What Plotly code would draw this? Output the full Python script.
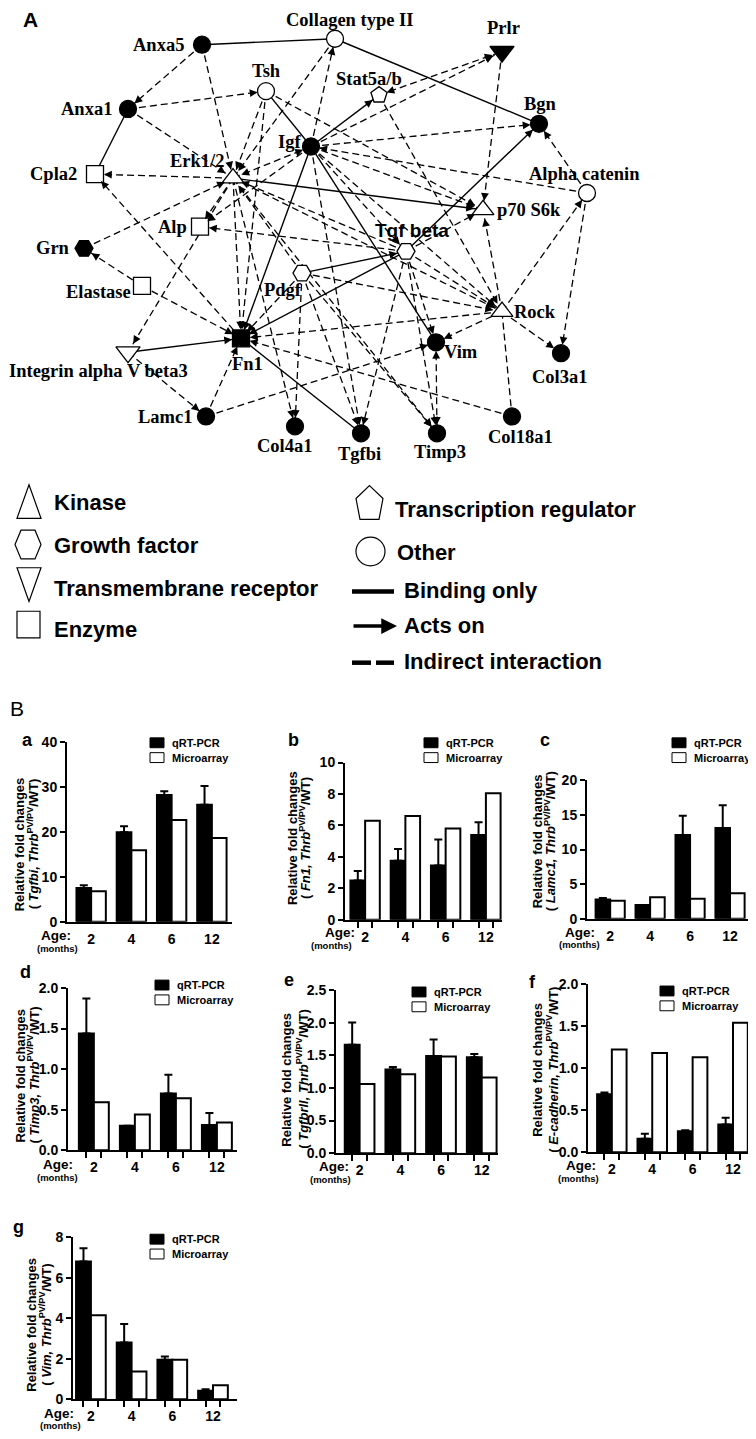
import math
import plotly.graph_objects as go

W, H = 756, 1439
OFF = 8                      # default page margin of the html body
FW, FH = W - OFF, H - OFF    # figure size so that it fits the window
SANS = "Liberation Sans, Arial, Helvetica, sans-serif"
SERIF = "Liberation Serif, Times New Roman, serif"

# ---------------- Panel B data (relative fold changes) ----------------
ages = ["2", "4", "6", "12"]
series_names = ["qRT-PCR", "Microarray"]

tgfbi_qrt = [7.5, 19.9, 28.2, 26.0]
tgfbi_err = [0.6, 1.3, 0.8, 4.2]
tgfbi_array = [6.8, 15.9, 22.6, 18.6]

fn1_qrt = [2.5, 3.75, 3.45, 5.4]
fn1_err = [0.6, 0.75, 1.65, 0.8]
fn1_array = [6.3, 6.6, 5.8, 8.05]

lamc1_qrt = [2.8, 2.0, 12.1, 13.1]
lamc1_err = [0.2, 0.0, 2.8, 3.3]
lamc1_array = [2.6, 3.1, 2.9, 3.7]

timp3_qrt = [1.44, 0.30, 0.70, 0.31]
timp3_err = [0.43, 0.0, 0.23, 0.15]
timp3_array = [0.59, 0.44, 0.64, 0.34]

tgfbr2_qrt = [1.66, 1.28, 1.49, 1.47]
tgfbr2_err = [0.34, 0.04, 0.25, 0.05]
tgfbr2_array = [1.06, 1.21, 1.48, 1.16]

ecad_qrt = [0.69, 0.16, 0.25, 0.33]
ecad_err = [0.02, 0.06, 0.01, 0.08]
ecad_array = [1.22, 1.18, 1.13, 1.54]

vim_qrt = [6.8, 2.8, 1.95, 0.42]
vim_err = [0.65, 0.92, 0.17, 0.08]
vim_array = [4.15, 1.37, 1.95, 0.70]

# ---------------- Panel A network data ----------------
node_names = ["Anxa5", "Collagen type II", "Prlr", "Tsh", "Stat5a/b", "Anxa1", "Bgn", "Igf",
              "Cpla2", "Erk1/2", "Alpha catenin", "p70 S6k", "Alp", "Tgf beta", "Grn", "Pdgf",
              "Elastase", "Rock", "Fn1", "Integrin alpha V beta3", "Vim", "Col3a1", "Lamc1",
              "Col18a1", "Col4a1", "Tgfbi", "Timp3"]
node_x = [202, 335, 502, 266, 379, 128, 539, 311, 95, 233, 587, 483, 200, 406, 84, 302,
          142, 502, 241, 128, 436, 561, 206, 512, 295, 361, 437]
node_y = [37, 31, 44, 84, 88, 102, 117, 140, 168, 172, 187, 204, 221, 246, 243, 268,
          281, 307, 334, 348, 338, 349, 413, 413, 423, 430, 430]
node_kind = ["other", "other", "receptor", "other", "tr", "other", "other", "other",
             "enzyme", "kinase", "other", "kinase", "enzyme", "gf", "gf", "gf",
             "enzyme", "kinase", "enzyme", "receptor", "other", "other", "other",
             "other", "other", "other", "other"]
node_filled = [1, 0, 1, 0, 0, 1, 1, 1, 0, 0, 0, 0, 0, 0, 1, 0, 0, 0, 1, 0, 1, 1, 1, 1, 1, 1, 1]

# b = binding only, a = acts on, i = indirect (arrow), ii = indirect both ways, d = indirect no arrow
edges = [
    ("Anxa5", "Collagen type II", "b"), ("Collagen type II", "Bgn", "b"), ("Anxa1", "Cpla2", "b"),
    ("Tsh", "Igf", "b"), ("Fn1", "Tgfbi", "b"), ("Igf", "Vim", "b"),
    ("Erk1/2", "p70 S6k", "a"), ("Igf", "Fn1", "a"), ("Integrin alpha V beta3", "Fn1", "a"),
    ("Tgf beta", "Fn1", "a"), ("Tgf beta", "Bgn", "a"), ("Pdgf", "Tgf beta", "a"),
    ("Igf", "Stat5a/b", "a"),
    ("Anxa5", "Anxa1", "i"), ("Anxa5", "Erk1/2", "i"), ("Anxa1", "Tsh", "i"), ("Anxa1", "Erk1/2", "i"),
    ("Erk1/2", "Cpla2", "i"), ("Fn1", "Cpla2", "i"), ("Grn", "Erk1/2", "i"), ("Elastase", "Grn", "i"),
    ("Elastase", "Fn1", "i"), ("Erk1/2", "Integrin alpha V beta3", "i"),
    ("Integrin alpha V beta3", "Lamc1", "i"), ("Lamc1", "Fn1", "i"), ("Lamc1", "Vim", "i"),
    ("Collagen type II", "Erk1/2", "i"), ("Igf", "Collagen type II", "i"), ("Tsh", "Erk1/2", "i"),
    ("Tsh", "p70 S6k", "i"), ("Igf", "Erk1/2", "ii"), ("Stat5a/b", "Prlr", "ii"), ("Igf", "Prlr", "i"),
    ("Igf", "Bgn", "i"), ("Prlr", "p70 S6k", "i"), ("Alpha catenin", "Bgn", "i"),
    ("Alpha catenin", "Igf", "i"), ("Rock", "Alpha catenin", "i"), ("Alpha catenin", "Col3a1", "i"),
    ("Rock", "Col3a1", "i"), ("Rock", "Vim", "i"), ("Rock", "Col18a1", "d"), ("Col18a1", "Fn1", "i"),
    ("Rock", "Fn1", "i"), ("Rock", "p70 S6k", "i"), ("Tgf beta", "p70 S6k", "i"), ("Tgf beta", "Alp", "i"),
    ("Tgf beta", "Vim", "i"), ("Tgf beta", "Timp3", "i"), ("Tgf beta", "Tgfbi", "i"),
    ("Tgf beta", "Rock", "i"), ("Tgf beta", "Erk1/2", "i"), ("Igf", "Tgf beta", "i"),
    ("Igf", "Rock", "i"), ("Igf", "p70 S6k", "i"), ("Igf", "Alp", "i"), ("Igf", "Tgfbi", "i"),
    ("Erk1/2", "Alp", "i"), ("Erk1/2", "Rock", "i"), ("Erk1/2", "Fn1", "i"), ("Erk1/2", "Col4a1", "i"),
    ("Erk1/2", "Timp3", "i"), ("Pdgf", "Fn1", "i"), ("Pdgf", "Col4a1", "i"), ("Pdgf", "Tgfbi", "i"),
    ("Pdgf", "Timp3", "i"), ("Pdgf", "Rock", "i"), ("Pdgf", "Erk1/2", "i"), ("Stat5a/b", "Rock", "i"),
    ("Vim", "Timp3", "ii"), ("Tsh", "Fn1", "i"),
]

legend_shapes_text = ["Kinase", "Growth factor", "Transmembrane receptor", "Enzyme"]
legend_other_text = ["Transcription regulator", "Other"]
legend_line_text = ["Binding only", "Acts on", "Indirect interaction"]


def pxx(x):
    return (x - OFF) / FW


def pxy(y):
    return 1 - (y - OFF) / FH


# ---------------- styles ----------------
label_style = {  # dx, dy, anchor
    "Anxa5": (-16, 0, "right"), "Collagen type II": (14, -19, "center"), "Prlr": (1, -24, "center"),
    "Tsh": (0, -20, "center"), "Stat5a/b": (-10, -16, "center"), "Anxa1": (-14, 0, "right"),
    "Bgn": (1, -20, "center"), "Igf": (-8, -5, "right"), "Cpla2": (-16, 0, "right"),
    "Erk1/2": (-36, -17, "center"), "Alpha catenin": (-3, -19, "center"), "p70 S6k": (12, 0, "left"),
    "Alp": (-11, 0, "right"), "Tgf beta": (6, -21, "center"), "Grn": (-12, 0, "right"),
    "Pdgf": (-19, 17, "center"), "Elastase": (-9, 6, "right"), "Rock": (10, 0, "left"),
    "Fn1": (6, 26, "center"), "Integrin alpha V beta3": (-30, 19, "center"), "Vim": (6, 10, "left"),
    "Col3a1": (-1, 24, "center"), "Lamc1": (-12, 1, "right"), "Col18a1": (8, 21, "center"),
    "Col4a1": (-10, 20, "center"), "Tgfbi": (-2, 21, "center"), "Timp3": (3, 19, "center"),
}
kind_symbol = {"other": "circle", "enzyme": "square", "kinase": "triangle-up",
               "receptor": "triangle-down", "gf": "hexagon2", "tr": "pentagon"}
kind_size = {"other": 17, "enzyme": 17, "kinase": 19, "receptor": 21, "gf": 18, "tr": 17}
kind_r = {"other": 8.5, "enzyme": 9, "kinase": 9, "receptor": 10, "gf": 9, "tr": 8}

fig = go.Figure()
annotations = []
shapes = []

NX, NY = "x8", "y8"
idx = {n: i for i, n in enumerate(node_names)}

# edges
sx, sy, dx_, dy_ = [], [], [], []
for s, t, k in edges:
    i, j = idx[s], idx[t]
    if k in ("b", "a"):
        sx += [node_x[i], node_x[j], None]
        sy += [node_y[i], node_y[j], None]
    else:
        dx_ += [node_x[i], node_x[j], None]
        dy_ += [node_y[i], node_y[j], None]

fig.add_trace(go.Scatter(x=dx_, y=dy_, mode="lines", xaxis=NX, yaxis=NY, hoverinfo="skip",
                         line=dict(color="black", width=1.3, dash="7px,4px"), showlegend=False))
fig.add_trace(go.Scatter(x=sx, y=sy, mode="lines", xaxis=NX, yaxis=NY, hoverinfo="skip",
                         line=dict(color="black", width=1.4), showlegend=False))


def arrow_to(i, j):
    ddx = node_x[j] - node_x[i]
    ddy = node_y[j] - node_y[i]
    L = math.hypot(ddx, ddy)
    ux, uy = ddx / L, ddy / L
    r = kind_r[node_kind[j]]
    annotations.append(dict(
        x=node_x[j], y=node_y[j], ax=node_x[j] - ux * (r + 9), ay=node_y[j] - uy * (r + 9),
        xref=NX, yref=NY, axref=NX, ayref=NY, showarrow=True, arrowhead=2, arrowsize=1.3,
        arrowwidth=1.2, arrowcolor="black", standoff=r, text=""))


for s, t, k in edges:
    i, j = idx[s], idx[t]
    if k in ("a", "i", "ii"):
        arrow_to(i, j)
    if k == "ii":
        arrow_to(j, i)

# nodes
fig.add_trace(go.Scatter(
    x=node_x, y=node_y, mode="markers", xaxis=NX, yaxis=NY, hoverinfo="text", text=node_names,
    opacity=1,
    marker=dict(symbol=[kind_symbol[k] for k in node_kind], size=[kind_size[k] for k in node_kind],
                color=["black" if f else "white" for f in node_filled], opacity=1,
                line=dict(color="black", width=1.3)),
    showlegend=False))

for n in node_names:
    i = idx[n]
    ldx, ldy, anc = label_style[n]
    is_sans = n == "Tgf beta"
    annotations.append(dict(
        x=node_x[i] + ldx, y=node_y[i] + ldy, xref=NX, yref=NY, text=n, showarrow=False,
        xanchor=anc, yanchor="middle",
        font=dict(family=SANS if is_sans else SERIF, size=19 if is_sans else 18.5,
                  color="black", weight="bold")))

# panel letters
annotations.append(dict(x=30, y=12, xref=NX, yref=NY, text="A", showarrow=False,
                        font=dict(family=SANS, size=21, color="black", weight="bold")))
annotations.append(dict(x=OFF, y=708, xref=NX, yref=NY, text="B", showarrow=False,
                        xanchor="left", yanchor="middle",
                        font=dict(family=SANS, size=21, color="black")))

# network legend glyphs
glyph_paths = [
    "M 29,482 L 41,516 L 17,516 Z",
    "M 15,542.5 L 21,528 L 35,528 L 41,542.5 L 35,557 L 21,557 Z",
    "M 17,566 L 41,566 L 29,600 Z",
    "M 17,610 L 40,610 L 40,637 L 17,637 Z",
    "M 369.5,483 L 383,496 L 379,517 L 360,517 L 356,496 Z",
]
for p in glyph_paths:
    shapes.append(dict(type="path", path=p, xref=NX, yref=NY, line=dict(color="black", width=1.2),
                       fillcolor="white"))
shapes.append(dict(type="circle", x0=356, x1=385, y0=535, y1=564, xref=NX, yref=NY,
                   line=dict(color="black", width=1.2), fillcolor="white"))
shapes.append(dict(type="line", x0=352, x1=394, y0=590, y1=590, xref=NX, yref=NY,
                   line=dict(color="black", width=4.5)))
shapes.append(dict(type="line", x0=352, x1=371, y0=662, y1=662, xref=NX, yref=NY,
                   line=dict(color="black", width=4.5)))
shapes.append(dict(type="line", x0=376, x1=394, y0=662, y1=662, xref=NX, yref=NY,
                   line=dict(color="black", width=4.5)))
annotations.append(dict(x=397, y=625, ax=352, ay=625, xref=NX, yref=NY, axref=NX, ayref=NY,
                        showarrow=True, arrowhead=2, arrowsize=0.9, arrowwidth=3.5,
                        arrowcolor="black", text=""))

LEGF = dict(family=SANS, size=22, color="black", weight="bold")
for txt, ly in zip(legend_shapes_text, [500, 543, 587, 628]):
    annotations.append(dict(x=52, y=ly, xref=NX, yref=NY, text=txt, showarrow=False,
                            xanchor="left", yanchor="middle", font=LEGF))
for txt, lx, ly in zip(legend_other_text, [393, 395], [507, 551]):
    annotations.append(dict(x=lx, y=ly, xref=NX, yref=NY, text=txt, showarrow=False,
                            xanchor="left", yanchor="middle", font=LEGF))
for txt, ly in zip(legend_line_text, [589, 624, 661]):
    annotations.append(dict(x=402, y=ly, xref=NX, yref=NY, text=txt, showarrow=False,
                            xanchor="left", yanchor="middle", font=LEGF))

# ---------------- bar panels ----------------
panels = [
    dict(letter="a", gene="Tgfbi", q=tgfbi_qrt, e=tgfbi_err, m=tgfbi_array, box=(67, 232, 742, 924),
         ymax=40, yt=[0, 10, 20, 30, 40], fmt="d", xr=(-0.6, 3.5), mt=False, lp=(27, 740),
         leg=(150, 738), tdx=(-48, -34), tfy=0.43, age=(6, 14, -10, 27)),
    dict(letter="b", gene="Fn1", q=fn1_qrt, e=fn1_err, m=fn1_array, box=(345, 502, 763, 922),
         ymax=10, yt=[0, 2, 4, 6, 8, 10], fmt="d", xr=(-0.5, 3.4), mt=True, lp=(293, 740),
         leg=(424, 738), tdx=(-53, -40), tfy=0.52, age=(12, 13, -14, 26)),
    dict(letter="c", gene="Lamc1", q=lamc1_qrt, e=lamc1_err, m=lamc1_array, box=(587, 750, 781, 921),
         ymax=20, yt=[0, 5, 10, 15, 20], fmt="d", xr=(-0.58, 3.5), mt=False, lp=(545, 740),
         leg=(672, 738), tdx=(-50, -37), tfy=0.56, age=(10, 14, -8, 26)),
    dict(letter="d", gene="Timp3", q=timp3_qrt, e=timp3_err, m=timp3_array, box=(68, 237, 991, 1155),
         ymax=2.0, yt=[0, 0.5, 1.0, 1.5, 2.0], fmt=".1f", xr=(-0.63, 3.49), mt=True, lp=(25, 975),
         leg=(155, 983), tdx=(-47, -35), tfy=0.46, age=(7, 14, -11, 27)),
    dict(letter="e", gene="TgfbrII", q=tgfbr2_qrt, e=tgfbr2_err, m=tgfbr2_array, box=(336, 498, 993, 1158),
         ymax=2.5, yt=[0, 0.5, 1.0, 1.5, 2.0, 2.5], fmt=".1f", xr=(-0.58, 3.4), mt=True, lp=(289, 983),
         leg=(412, 990), tdx=(-49, -34), tfy=0.45, age=(15, 13, -6, 26)),
    dict(letter="f", gene="E-cadherin", q=ecad_qrt, e=ecad_err, m=ecad_array, box=(588, 750, 987, 1157),
         ymax=2.0, yt=[0, 0.5, 1.0, 1.5, 2.0], fmt=".1f", xr=(-0.59, 3.42), mt=True, lp=(532, 985),
         leg=(660, 989), tdx=(-50, -36), tfy=0.49, age=(10, 13, -10, 26)),
    dict(letter="g", gene="Vim", q=vim_qrt, e=vim_err, m=vim_array, box=(73, 237, 1243, 1407),
         ymax=8, yt=[0, 2, 4, 6, 8], fmt="d", xr=(-0.44, 3.59), mt=True, lp=(18, 1233),
         leg=(150, 1240), tdx=(-41, -28), tfy=0.46, age=(3, 14, -13, 26)),
]

BARGAP = 0.27
half = (1 - BARGAP) / 4
pos = list(range(len(ages)))
TICKF = dict(family=SANS, size=14, color="black", weight="bold")
layout_axes = {}

for k, p in enumerate(panels):
    n = k + 1
    xa = "x" if n == 1 else f"x{n}"
    ya = "y" if n == 1 else f"y{n}"
    xkey = "xaxis" if n == 1 else f"xaxis{n}"
    ykey = "yaxis" if n == 1 else f"yaxis{n}"
    x0, x1, yt0, yb0 = p["box"]
    fig.add_trace(go.Bar(x=pos, y=p["q"], name=series_names[0], xaxis=xa, yaxis=ya, showlegend=False,
                         marker=dict(color="black", line=dict(color="black", width=2)),
                         error_y=dict(type="data", array=p["e"], arrayminus=[0] * len(pos),
                                      symmetric=False, color="black", thickness=2, width=4)))
    fig.add_trace(go.Bar(x=pos, y=p["m"], name=series_names[1], xaxis=xa, yaxis=ya, showlegend=False,
                         marker=dict(color="white", line=dict(color="black", width=2))))
    xax = dict(domain=[pxx(x0), pxx(x1)], range=list(p["xr"]), anchor=ya, tickmode="array",
               tickvals=pos, ticktext=ages, ticks="", showline=True, linewidth=2, linecolor="black",
               showgrid=False, zeroline=False, tickfont=TICKF, fixedrange=True, ticklabelstandoff=3)
    if p["mt"]:
        xax["minor"] = dict(tickmode="array", tickvals=[v + s * half for v in pos for s in (-1, 1)],
                            ticks="outside", ticklen=6, tickwidth=2, tickcolor="black")
    layout_axes[xkey] = xax
    layout_axes[ykey] = dict(domain=[pxy(yb0), pxy(yt0)], range=[0, p["ymax"]], anchor=xa,
                             tickmode="array", tickvals=p["yt"], tickformat=p["fmt"], ticks="outside",
                             ticklen=5, tickwidth=2, tickcolor="black", showline=True, linewidth=2,
                             linecolor="black", showgrid=False, zeroline=False, tickfont=TICKF,
                             fixedrange=True)
    # y-axis title (two lines)
    for txt, xs in zip(["Relative fold changes",
                        f"( <i>{p['gene']}, Thrb</i><sup>PV/PV</sup>/WT)"], p["tdx"]):
        annotations.append(dict(x=0, y=p["tfy"], xref=f"{xa} domain", yref=f"{ya} domain", text=txt,
                                showarrow=False, textangle=-90, xanchor="center", yanchor="middle",
                                xshift=xs, font=dict(family=SANS, size=13, color="black",
                                                     weight="bold")))
    adx, ady, mdx, mdy = p["age"]
    annotations.append(dict(x=0, y=0, xref=f"{xa} domain", yref=f"{ya} domain", text="Age:",
                            showarrow=False, xanchor="right", yanchor="middle", xshift=adx, yshift=-ady,
                            font=dict(family=SANS, size=13.5, color="black", weight="bold")))
    annotations.append(dict(x=0, y=0, xref=f"{xa} domain", yref=f"{ya} domain", text="(months)",
                            showarrow=False, xanchor="center", yanchor="middle", xshift=mdx, yshift=-mdy,
                            font=dict(family=SANS, size=9.5, color="black", weight="bold")))
    # panel letter
    lx, ly = p["lp"]
    annotations.append(dict(x=pxx(lx), y=pxy(ly), xref="paper", yref="paper", text=p["letter"],
                            showarrow=False, xanchor="center", yanchor="middle",
                            font=dict(family=SANS, size=18, color="black", weight="bold")))
    # legend
    gx, gy = p["leg"]
    for r, (nm, col) in enumerate(zip(series_names, ["black", "white"])):
        top = gy + r * 15
        shapes.append(dict(type="rect", xref="paper", yref="paper", x0=pxx(gx), x1=pxx(gx + 14),
                           y0=pxy(top), y1=pxy(top + 10), fillcolor=col,
                           line=dict(color="black", width=1)))
        annotations.append(dict(x=pxx(gx + 20), y=pxy(top + 5), xref="paper", yref="paper",
                                text=nm, showarrow=False, xanchor="left", yanchor="middle",
                                font=dict(family=SANS, size=11, color="black", weight="bold")))

fig.update_layout(
    width=FW, height=FH, margin=dict(l=0, r=0, t=0, b=0),
    paper_bgcolor="white", plot_bgcolor="rgba(0,0,0,0)",
    barmode="group", bargap=BARGAP, bargroupgap=0,
    xaxis8=dict(domain=[0, 1], range=[OFF, W], visible=False, anchor="y8", fixedrange=True),
    yaxis8=dict(domain=[0, 1], range=[H, OFF], visible=False, anchor="x8", fixedrange=True),
    annotations=annotations, shapes=shapes, showlegend=False,
    **layout_axes,
)

fig.write_html("out.html")
